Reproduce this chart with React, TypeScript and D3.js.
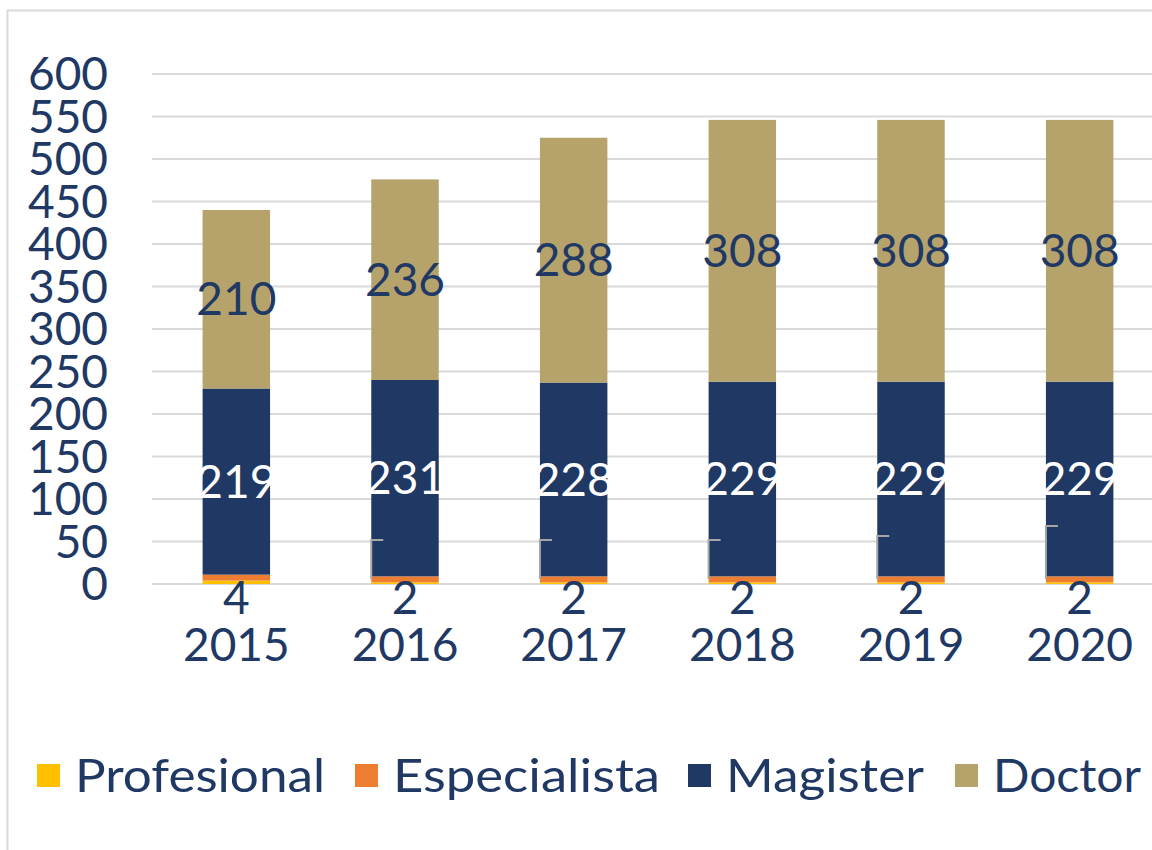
import * as d3 from "d3";

const years = ["2015", "2016", "2017", "2018", "2019", "2020"];
const profesional = [4, 2, 2, 2, 2, 2];
const especialista = [7, 7, 7, 7, 7, 7];
const magister = [219, 231, 228, 229, 229, 229];
const doctor = [210, 236, 288, 308, 308, 308];
const yTicks = [0, 50, 100, 150, 200, 250, 300, 350, 400, 450, 500, 550, 600];

const seriesNames = ["Profesional", "Especialista", "Magister", "Doctor"];
const seriesColors = ["#FFC000", "#ED7D31", "#203864", "#B6A36B"];
// leader line top offsets (px above the axis) for hidden Especialista labels
const leaderTops = [null, 44, 44, 44, 48, 58];

const W = 1152;
const H = 850;
const FONT = "'Century Gothic', Lato, 'DejaVu Sans', sans-serif";
const TEXT = "#203864";

export default function App() {
  const x = d3.scaleBand().domain(years).range([152, 1164]).paddingInner(0.6).paddingOuter(0.3);
  const y = d3.scaleLinear().domain([0, 600]).range([584, 74]);

  const rows = years.map((yr, i) => ({
    year: yr,
    Profesional: profesional[i],
    Especialista: especialista[i],
    Magister: magister[i],
    Doctor: doctor[i],
  }));
  const stacked = d3.stack<any>().keys(seriesNames)(rows);

  // legend positions / widths to mimic the wide original font
  const legendX = [37, 355, 688, 955];
  const legendW = [250, 267, 198, 148];

  return (
    <svg width={W} height={H} style={{ position: "absolute", left: 0, top: 0, background: "#fff" }} fontFamily={FONT}>
      <rect x={7.5} y={10.5} width={W + 10} height={H + 10} fill="none" stroke="#D9D9D9" strokeWidth={2} />

      {yTicks.map((t) => (
        <g key={t}>
          <line x1={152} x2={W} y1={y(t)} y2={y(t)} stroke="#D9D9D9" strokeWidth={2} />
          <text x={108} y={y(t)} dy="0.35em" textAnchor="end" fontSize={46} fill={TEXT}>
            {t}
          </text>
        </g>
      ))}

      {stacked.map((s, si) => (
        <g key={s.key} fill={seriesColors[si]}>
          {s.map((d, i) => (
            <rect key={i} x={x(years[i])} width={x.bandwidth()} y={y(d[1])} height={y(d[0]) - y(d[1])} />
          ))}
        </g>
      ))}

      {/* leader lines */}
      {leaderTops.map((lt, i) =>
        lt == null ? null : (
          <path
            key={i}
            d={`M${x(years[i])! + 12},${y(0) - lt} H${x(years[i])} V${y(0) - 5}`}
            fill="none"
            stroke="#A6A6A6"
            strokeWidth={2}
          />
        )
      )}

      {/* data labels */}
      {years.map((yr, i) => {
        const cx = x(yr)! + x.bandwidth() / 2;
        const mag = stacked[2][i];
        const doc = stacked[3][i];
        return (
          <g key={yr} fontSize={46} textAnchor="middle">
            <text x={cx} y={y((doc[0] + doc[1]) / 2)} dy="0.35em" fill={TEXT}>
              {doctor[i]}
            </text>
            <text x={cx} y={y((mag[0] + mag[1]) / 2)} dy="0.35em" fill="#fff">
              {magister[i]}
            </text>
            <text x={cx} y={y(0) + 14} dy="0.35em" fill={TEXT}>
              {profesional[i]}
            </text>
            <text x={cx} y={645} dy="0.35em" fill={TEXT}>
              {yr}
            </text>
          </g>
        );
      })}

      {/* legend */}
      {seriesNames.map((name, i) => (
        <g key={name}>
          <rect x={legendX[i]} y={764} width={23} height={23} fill={seriesColors[i]} />
          <text
            x={legendX[i] + 38}
            y={776}
            dy="0.35em"
            fontSize={46}
            fill={TEXT}
            textLength={legendW[i]}
            lengthAdjust="spacingAndGlyphs"
          >
            {name}
          </text>
        </g>
      ))}
    </svg>
  );
}
